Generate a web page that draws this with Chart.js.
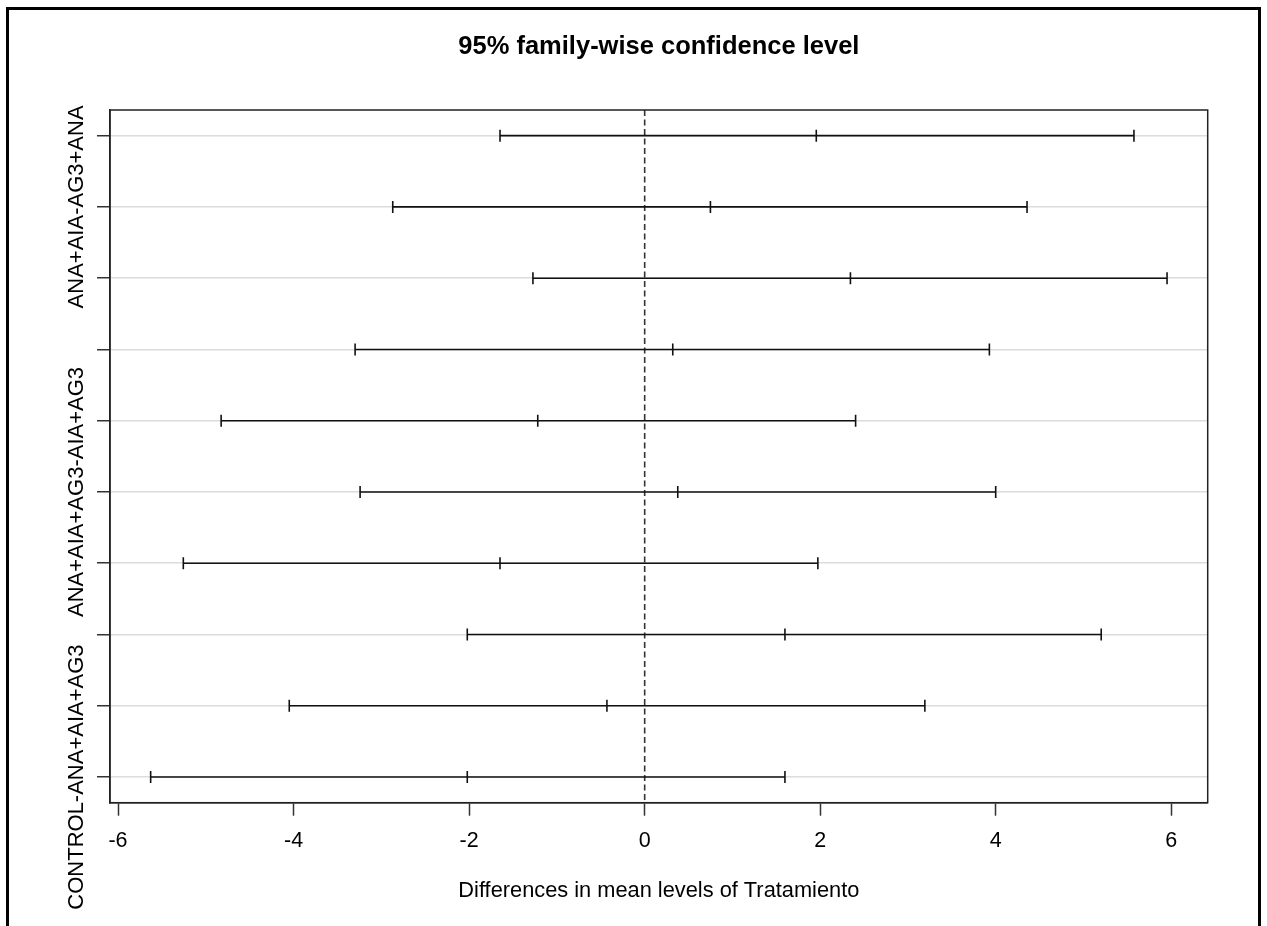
<!DOCTYPE html>
<html>
<head>
<meta charset="utf-8">
<title>95% family-wise confidence level</title>
<script src="https://cdn.jsdelivr.net/npm/chart.js@4/dist/chart.umd.min.js"></script>
<style>
  html, body { margin: 0; padding: 0; background: #ffffff; }
  #wrap { width: 1267px; height: 926px; }
</style>
</head>
<body>
<div id="wrap"><canvas id="chart" width="1267" height="926"></canvas></div>
<script>
// Tukey HSD pairwise comparisons of Tratamiento (top row first)
const comparisons = [
  'AIA+AG3-AG3+ANA',
  'ANA+AIA-AG3+ANA',
  'ANA+AIA+AG3-AG3+ANA',
  'CONTROL-AG3+ANA',
  'ANA+AIA-AIA+AG3',
  'ANA+AIA+AG3-AIA+AG3',
  'CONTROL-AIA+AG3',
  'ANA+AIA+AG3-ANA+AIA',
  'CONTROL-ANA+AIA',
  'CONTROL-ANA+AIA+AG3'
];
// difference in means and the 95% family-wise interval bounds
const diffs  = [ 1.955,  0.749,  2.344,  0.320, -1.218,  0.377, -1.648,  1.598, -0.430, -2.021];
const lowers = [-1.648, -2.870, -1.273, -3.299, -4.825, -3.242, -5.256, -2.021, -4.049, -5.628];
const uppers = [ 5.574,  4.356,  5.951,  3.927,  2.403,  3.999,  1.973,  5.201,  3.192,  1.598];

// y tick labels that are printed (the rest would overlap and are left blank)
const yTickLabels = [
  '',
  'ANA+AIA-AG3+ANA',
  '',
  '',
  '',
  'ANA+AIA+AG3-AIA+AG3',
  '',
  '',
  '',
  'CONTROL-ANA+AIA+AG3'
];
const xTickValues = [-6, -4, -2, 0, 2, 4, 6];

const FONT = 'Liberation Sans, Arial, Helvetica, sans-serif';
const n = comparisons.length;

// axis limits padded by 4% of the data range, as in base R graphics
const allLo = Math.min(...lowers), allHi = Math.max(...uppers);
const xPad = (allHi - allLo) * 0.04;
const yPad = (n - 1) * 0.04;

// one dataset per comparison: lower bound, estimate, upper bound joined by a line
const datasets = comparisons.map((name, i) => ({
  label: name,
  data: [
    { x: lowers[i], y: n - i },
    { x: diffs[i],  y: n - i },
    { x: uppers[i], y: n - i }
  ],
  showLine: true,
  borderColor: '#111111',
  borderWidth: 1.6,
  pointStyle: 'line',
  pointRotation: 90,
  pointRadius: 6,
  pointHoverRadius: 6,
  pointBorderColor: '#111111',
  pointBorderWidth: 1.6,
  pointBackgroundColor: '#111111'
}));

// outer frame, plot box, dashed zero reference and rotated comparison labels
const decorations = {
  id: 'decorations',
  beforeDraw(chart) {
    const ctx = chart.ctx;
    ctx.save();
    ctx.fillStyle = '#ffffff';
    ctx.fillRect(0, 0, chart.width, chart.height);
    ctx.restore();
  },
  beforeDatasetsDraw(chart) {
    const { ctx, chartArea: a, scales } = chart;
    const x0 = scales.x.getPixelForValue(0);
    ctx.save();
    ctx.strokeStyle = '#333333';
    ctx.lineWidth = 1.6;
    ctx.setLineDash([6, 3.5]);
    ctx.beginPath();
    ctx.moveTo(x0, a.top);
    ctx.lineTo(x0, a.bottom);
    ctx.stroke();
    ctx.restore();
  },
  afterDraw(chart) {
    const { ctx, chartArea: a, scales } = chart;
    ctx.save();
    // plot box
    ctx.strokeStyle = '#222222';
    ctx.lineWidth = 1.5;
    ctx.strokeRect(a.left, a.top, a.right - a.left, a.bottom - a.top);
    // outer frame
    ctx.strokeStyle = '#000000';
    ctx.lineWidth = 3;
    ctx.beginPath();
    ctx.moveTo(7.5, chart.height + 2);
    ctx.lineTo(7.5, 8.5);
    ctx.lineTo(1259.5, 8.5);
    ctx.lineTo(1259.5, chart.height + 2);
    ctx.stroke();
    // rotated y labels
    ctx.fillStyle = '#000000';
    ctx.font = '22px ' + FONT;
    ctx.textAlign = 'center';
    ctx.textBaseline = 'alphabetic';
    yTickLabels.forEach((txt, i) => {
      if (!txt) return;
      const py = scales.y.getPixelForValue(n - i);
      ctx.save();
      ctx.translate(83, py);
      ctx.rotate(-Math.PI / 2);
      ctx.fillText(txt, 0, 0);
      ctx.restore();
    });
    ctx.restore();
  }
};

new Chart(document.getElementById('chart'), {
  type: 'scatter',
  data: { datasets },
  plugins: [decorations],
  options: {
    responsive: false,
    animation: false,
    layout: { padding: { top: 0, left: 110, right: 59.3, bottom: 0 } },
    plugins: {
      legend: { display: false },
      title: {
        display: true,
        text: '95% family-wise confidence level',
        color: '#000000',
        font: { family: FONT, size: 25.5, weight: 'bold' },
        padding: { top: 32, bottom: 47.4 }
      },
      tooltip: {
        callbacks: {
          label: (c) => c.dataset.label + ': ' + c.parsed.x.toFixed(3)
        }
      }
    },
    scales: {
      x: {
        type: 'linear',
        position: 'bottom',
        min: allLo - xPad,
        max: allHi + xPad,
        afterBuildTicks: (s) => { s.ticks = xTickValues.map(v => ({ value: v })); },
        afterFit: (s) => { s.height = 123.3; },
        grid: {
          drawOnChartArea: false,
          drawTicks: true,
          tickLength: 13,
          tickColor: '#333333',
          tickWidth: 1.5
        },
        border: { display: true, color: '#222222', width: 1.5 },
        ticks: {
          color: '#000000',
          font: { family: FONT, size: 21.5 },
          padding: 12,
          maxRotation: 0,
          callback: (v) => String(v)
        },
        title: {
          display: true,
          text: 'Differences in mean levels of Tratamiento',
          color: '#000000',
          font: { family: FONT, size: 21.8 },
          padding: { top: 0, bottom: 22 }
        }
      },
      y: {
        type: 'linear',
        position: 'left',
        min: 1 - yPad,
        max: n + yPad,
        afterBuildTicks: (s) => { s.ticks = comparisons.map((c, i) => ({ value: n - i })); },
        afterFit: (s) => { s.width = 0; },
        grid: {
          color: '#dcdcdc',
          lineWidth: 1.5,
          drawTicks: true,
          tickLength: 13,
          tickColor: '#333333',
          tickWidth: 1.5
        },
        border: { display: true, color: '#222222', width: 1.5 },
        ticks: { display: false }
      }
    }
  }
});
</script>
</body>
</html>
